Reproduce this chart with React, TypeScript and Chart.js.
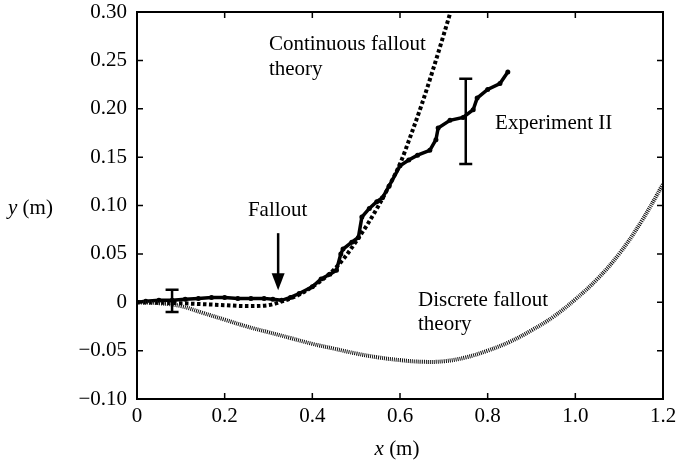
import React, { useEffect, useRef } from "react";
import { Chart, registerables } from "chart.js";

Chart.register(...registerables);

// Experiment II (solid line with dots)
const expX = [0, 0.02, 0.05, 0.08, 0.11, 0.14, 0.17, 0.2, 0.23, 0.26, 0.29, 0.31, 0.33, 0.35, 0.37, 0.4, 0.42, 0.44, 0.455, 0.465, 0.47, 0.49, 0.505, 0.513, 0.53, 0.547, 0.56, 0.575, 0.6, 0.62, 0.64, 0.668, 0.682, 0.687, 0.714, 0.744, 0.767, 0.776, 0.8, 0.828, 0.846];
const expY = [0, 0.001, 0.002, 0.002, 0.003, 0.004, 0.005, 0.005, 0.004, 0.004, 0.004, 0.003, 0.002, 0.005, 0.009, 0.016, 0.024, 0.029, 0.033, 0.05, 0.055, 0.062, 0.067, 0.088, 0.097, 0.104, 0.108, 0.12, 0.141, 0.147, 0.152, 0.157, 0.168, 0.18, 0.188, 0.191, 0.199, 0.211, 0.22, 0.226, 0.238];

// Continuous fallout theory (thick dashed)
const contX = [0, 0.05, 0.1, 0.15, 0.2, 0.25, 0.3, 0.325, 0.35, 0.375, 0.4, 0.425, 0.45, 0.475, 0.5, 0.525, 0.55, 0.575, 0.6, 0.625, 0.65, 0.675, 0.7, 0.725];
const contY = [0, -0.0005, -0.001, -0.002, -0.003, -0.004, -0.003, 0, 0.004, 0.009, 0.016, 0.024, 0.034, 0.047, 0.063, 0.08, 0.099, 0.12, 0.143, 0.173, 0.205, 0.24, 0.277, 0.315];

// Discrete fallout theory (fine dotted)
const discX = [0, 0.05, 0.1, 0.15, 0.2, 0.25, 0.3, 0.35, 0.4, 0.45, 0.5, 0.55, 0.6, 0.65, 0.7, 0.75, 0.8, 0.85, 0.9, 0.95, 1.0, 1.05, 1.1, 1.15, 1.2];
const discY = [0, -0.001, -0.004, -0.011, -0.018, -0.025, -0.031, -0.037, -0.043, -0.048, -0.053, -0.057, -0.0598, -0.0615, -0.061, -0.057, -0.05, -0.041, -0.029, -0.015, 0.003, 0.024, 0.05, 0.083, 0.122];

// Error bars
const errX = [0.08, 0.75];
const errLow = [-0.01, 0.143];
const errHigh = [0.013, 0.231];

// Axis ticks
const xTicks = [0, 0.2, 0.4, 0.6, 0.8, 1.0, 1.2];
const yTicks = [-0.1, -0.05, 0, 0.05, 0.1, 0.15, 0.2, 0.25, 0.3];

const FONT = '"Liberation Serif", "Times New Roman", serif';
const FS = 21;

const toPts = (xs: number[], ys: number[]) => xs.map((x, i) => ({ x, y: ys[i] }));

const fmtY = (v: number) => (Math.abs(v) < 1e-9 ? "0" : (v < 0 ? "\u2212" : "") + Math.abs(v).toFixed(2));
const fmtX = (v: number) => (Math.abs(v) < 1e-9 ? "0" : v.toFixed(1));

const decorPlugin = {
  id: "decor",
  afterDatasetsDraw(chart: any) {
    const ctx = chart.ctx;
    const { left, right, top, bottom } = chart.chartArea;
    const xs = chart.scales.x;
    const ys = chart.scales.y;
    ctx.save();
    ctx.strokeStyle = "#000";
    ctx.fillStyle = "#000";

    // frame
    ctx.lineWidth = 2;
    ctx.strokeRect(left, top, right - left, bottom - top);

    // inward ticks
    ctx.lineWidth = 1.5;
    const tl = 6;
    ctx.beginPath();
    xTicks.forEach((v) => {
      const px = xs.getPixelForValue(v);
      ctx.moveTo(px, bottom);
      ctx.lineTo(px, bottom - tl);
      ctx.moveTo(px, top);
      ctx.lineTo(px, top + tl);
    });
    yTicks.forEach((v) => {
      const py = ys.getPixelForValue(v);
      ctx.moveTo(left, py);
      ctx.lineTo(left + tl, py);
      ctx.moveTo(right, py);
      ctx.lineTo(right - tl, py);
    });
    ctx.stroke();

    // error bars
    ctx.lineWidth = 2.5;
    errX.forEach((x, i) => {
      const px = xs.getPixelForValue(x);
      const p1 = ys.getPixelForValue(errLow[i]);
      const p2 = ys.getPixelForValue(errHigh[i]);
      ctx.beginPath();
      ctx.moveTo(px, p1);
      ctx.lineTo(px, p2);
      ctx.moveTo(px - 6.5, p1);
      ctx.lineTo(px + 6.5, p1);
      ctx.moveTo(px - 6.5, p2);
      ctx.lineTo(px + 6.5, p2);
      ctx.stroke();
    });

    // arrow for "Fallout"
    const ax = xs.getPixelForValue(0.322);
    const ay1 = ys.getPixelForValue(0.0714);
    const ay2 = ys.getPixelForValue(0.0124);
    ctx.lineWidth = 2.5;
    ctx.beginPath();
    ctx.moveTo(ax, ay1);
    ctx.lineTo(ax, ay2 - 14);
    ctx.stroke();
    ctx.beginPath();
    ctx.moveTo(ax - 6.5, ay2 - 17);
    ctx.lineTo(ax + 6.5, ay2 - 17);
    ctx.lineTo(ax, ay2);
    ctx.closePath();
    ctx.fill();

    // annotations
    ctx.font = `${FS}px ${FONT}`;
    ctx.textBaseline = "alphabetic";
    ctx.textAlign = "left";
    const txt = (s: string, x: number, y: number) =>
      ctx.fillText(s, xs.getPixelForValue(x), ys.getPixelForValue(y));
    txt("Continuous fallout", 0.301, 0.261);
    txt("theory", 0.301, 0.235);
    txt("Fallout", 0.253, 0.089);
    txt("Experiment II", 0.817, 0.179);
    txt("Discrete fallout", 0.641, -0.004);
    txt("theory", 0.641, -0.029);

    // axis titles
    const drawTitle = (v: string, x: number, y: number, align: "left" | "center") => {
      ctx.font = `italic ${FS}px ${FONT}`;
      const w1 = ctx.measureText(v).width;
      ctx.font = `${FS}px ${FONT}`;
      const rest = " (m)";
      const w2 = ctx.measureText(rest).width;
      const startX = align === "center" ? x - (w1 + w2) / 2 : x;
      ctx.textAlign = "left";
      ctx.font = `italic ${FS}px ${FONT}`;
      ctx.fillText(v, startX, y);
      ctx.font = `${FS}px ${FONT}`;
      ctx.fillText(rest, startX + w1, y);
    };
    drawTitle("y", 8, ys.getPixelForValue(0.1) + 8, "left");
    drawTitle("x", (left + right) / 2 - 3, 455, "center");

    ctx.restore();
  },
};

export default function App() {
  const ref = useRef<HTMLCanvasElement | null>(null);

  useEffect(() => {
    if (!ref.current) return;
    const chart = new Chart(ref.current, {
      type: "scatter",
      data: {
        datasets: [
          {
            label: "Discrete fallout theory",
            data: toPts(discX, discY),
            showLine: true,
            borderColor: "#111",
            borderWidth: 4,
            borderDash: [1, 1],
            pointRadius: 0,
            tension: 0.4,
          },
          {
            label: "Continuous fallout theory",
            data: toPts(contX, contY),
            showLine: true,
            borderColor: "#000",
            borderWidth: 4,
            borderDash: [3.5, 2.5],
            pointRadius: 0,
            cubicInterpolationMode: "monotone",
          },
          {
            label: "Experiment II",
            data: toPts(expX, expY),
            showLine: true,
            borderColor: "#000",
            backgroundColor: "#000",
            borderWidth: 3.5,
            pointRadius: 2.5,
            pointBorderWidth: 0,
            tension: 0,
          },
        ],
      },
      options: {
        animation: false,
        responsive: true,
        maintainAspectRatio: false,
        layout: { padding: { top: 12, right: 13, left: 0, bottom: 0 } },
        plugins: { legend: { display: false }, tooltip: { enabled: false } },
        scales: {
          x: {
            type: "linear",
            min: 0,
            max: 1.2,
            grid: { display: false, drawTicks: false },
            border: { display: false },
            afterBuildTicks: (s: any) => {
              s.ticks = xTicks.map((v) => ({ value: v }));
            },
            afterFit: (s: any) => {
              s.height = 62;
              s.paddingLeft = 0;
              s.paddingRight = 0;
            },
            ticks: {
              color: "#000",
              padding: 5,
              font: { family: FONT, size: FS },
              maxRotation: 0,
              autoSkip: false,
              callback: (v: any) => fmtX(Number(v)),
            },
          },
          y: {
            type: "linear",
            min: -0.1,
            max: 0.3,
            grid: { display: false, drawTicks: false },
            border: { display: false },
            afterBuildTicks: (s: any) => {
              s.ticks = yTicks.map((v) => ({ value: v }));
            },
            afterFit: (s: any) => {
              s.width = 137;
              s.paddingTop = 0;
              s.paddingBottom = 0;
            },
            ticks: {
              color: "#000",
              padding: 10,
              font: { family: FONT, size: FS },
              autoSkip: false,
              callback: (v: any) => fmtY(Number(v)),
            },
          },
        },
      },
      plugins: [decorPlugin],
    } as any);
    return () => chart.destroy();
  }, []);

  return (
    <div style={{ position: "fixed", left: 0, top: 0, width: 676, height: 461, background: "#fff" }}>
      <canvas ref={ref} />
    </div>
  );
}
